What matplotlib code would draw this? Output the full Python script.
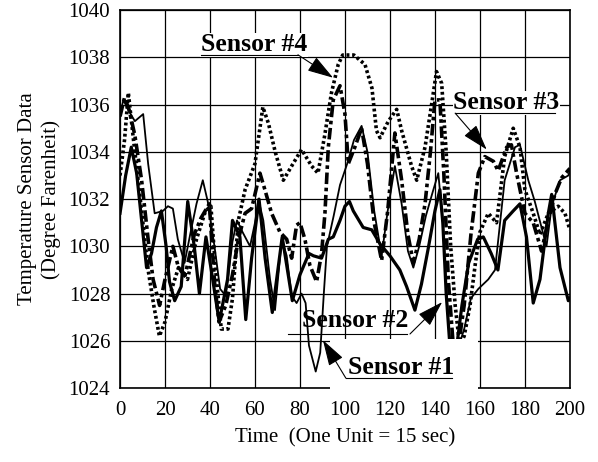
import numpy as np
import matplotlib
matplotlib.use("Agg")
import matplotlib.pyplot as plt
from matplotlib.patches import Rectangle

# ---- data ----
s1_t = [0, 1.5, 3.5, 6.6, 10.3, 12.5, 15.4, 19.1, 21.3, 23.5, 25.7, 28.7, 31.6, 34, 36.8,
        39, 42, 44.5, 47, 50, 52, 54.5, 57.8, 60, 61.5, 63.7, 66.7, 68.9, 71.9, 74.1, 76.3,
        78.5, 80.7, 82.5, 84, 87, 89, 90.6, 92, 95, 97.8, 101, 104, 107.4, 110, 113, 116.3,
        119, 122.2, 125.2, 128, 130.4, 133, 136, 139, 141.5, 143.5, 145.5, 147, 150, 153,
        156, 159.3, 163.7, 166.7, 171, 175.6, 177.8, 181.5, 184.4, 187.4, 189.6, 191.9,
        195.6, 199.3, 200]
s1_v = [1035.6, 1036.2, 1035.8, 1035.3, 1035.6, 1033.5, 1031.4, 1031.5, 1031.7, 1031.6,
        1030.3, 1029.3, 1030.7, 1031.8, 1032.8, 1031.9, 1030.0, 1028.2, 1027.9, 1030.2,
        1031.1, 1030.6, 1030.0, 1031.0, 1032.0, 1031.1, 1028.6, 1027.3, 1030.3, 1029.6,
        1027.9, 1027.6, 1028.0, 1027.6, 1025.8, 1024.7, 1025.5, 1028.0, 1030.0, 1031.3,
        1032.6, 1033.5, 1034.5, 1035.1, 1034.0, 1031.5, 1029.6, 1031.5, 1033.4, 1031.8,
        1029.8, 1029.1, 1030.0, 1031.3, 1032.3, 1033.1, 1031.0, 1027.5, 1025.5, 1025.6,
        1026.5, 1027.8, 1028.2, 1028.6, 1029.0, 1032.8, 1034.2, 1034.3, 1032.8, 1031.9,
        1030.8, 1030.0, 1031.7, 1032.8, 1033.0, 1033.2]

s2_t = [0, 2.5, 5, 7.4, 9.6, 11.8, 14, 16.2, 18.4, 20.5, 22, 24.3, 27.2, 30.1, 33, 35.3,
        38.2, 40.4, 44.1, 47.8, 50, 53.3, 55.9, 58.5, 61.8, 64.5, 67.7, 72.1, 76.6, 80, 84,
        86, 89.6, 92.6, 94.8, 97.8, 100, 102, 103.7, 108.1, 111.9, 115.6, 120, 124.4, 127.4,
        131.1, 134, 137, 140, 142.2, 143.5, 145, 146.5, 148, 150, 152, 155, 159, 161.5, 165,
        168, 171, 174.8, 177.8, 180.7, 183.7, 186.7, 190.4, 191.9, 195.6, 199.3, 200]
s2_v = [1031.4, 1033.0, 1034.2, 1033.1, 1031.1, 1029.1, 1029.7, 1030.8, 1031.5, 1030.0,
        1028.5, 1027.7, 1028.3, 1031.9, 1030.0, 1028.0, 1030.4, 1029.1, 1026.8, 1028.6,
        1031.1, 1030.4, 1026.9, 1029.5, 1032.0, 1029.5, 1027.2, 1030.4, 1027.7, 1028.8,
        1029.7, 1029.6, 1029.5, 1030.3, 1030.4, 1031.1, 1031.7, 1031.9, 1031.5, 1030.8,
        1030.7, 1030.1, 1029.6, 1029.0, 1028.3, 1027.3, 1028.4, 1029.9, 1031.5, 1032.4,
        1031.0, 1028.0, 1026.0, 1025.5, 1026.0, 1027.5, 1029.3, 1030.3, 1030.4, 1029.7,
        1029.0, 1031.1, 1031.5, 1031.8, 1030.4, 1027.6, 1028.6, 1031.4, 1032.2, 1029.1,
        1027.7, 1027.8]

s3_t = [0, 2, 4, 6.6, 9.6, 12.5, 14.7, 17.6, 20, 23.5, 26, 29, 33, 36, 39.7, 42, 44, 47,
        50, 52.6, 55.6, 58.5, 62.2, 64.4, 67.4, 71.1, 74.1, 76.3, 78.5, 80, 82.2, 84.4,
        87.4, 89.6, 91.1, 92.6, 94.8, 97.8, 100, 101.5, 104.4, 107.4, 110, 113, 116.3, 119,
        122.2, 125.2, 128, 130.4, 133, 135.6, 138, 140, 142.2, 144, 146, 148, 150, 153, 156,
        159.3, 162.2, 166, 168.1, 171.9, 174, 176.3, 180, 183.7, 187.4, 190.4, 193.3, 196.3,
        200]
s3_v = [1035.5, 1036.3, 1035.8, 1034.7, 1032.8, 1030.3, 1028.6, 1027.5, 1028.6, 1030.0,
        1029.1, 1028.8, 1030.5, 1031.2, 1031.8, 1028.5, 1026.8, 1027.5, 1028.8, 1030.3,
        1031.4, 1031.6, 1033.1, 1032.4, 1031.4, 1030.6, 1030.3, 1029.5, 1030.9, 1031.0,
        1030.3, 1029.2, 1028.5, 1029.7, 1031.4, 1034.2, 1036.2, 1036.8, 1035.6, 1033.5,
        1034.2, 1035.0, 1033.5, 1031.0, 1029.4, 1031.5, 1034.8, 1032.8, 1030.5, 1029.3,
        1030.3, 1031.8, 1034.0, 1036.2, 1036.2, 1033.0, 1028.5, 1026.0, 1025.5, 1027.5,
        1030.5, 1033.1, 1033.8, 1033.6, 1033.2, 1034.2, 1034.3, 1033.1, 1031.4, 1031.0,
        1029.8, 1031.1, 1032.2, 1032.9, 1033.3]

s4_t = [0, 2, 3.7, 6, 9, 12.5, 15, 17.5, 20, 23, 26, 30, 34, 38, 40.4, 42.5, 45, 48, 50,
        52.6, 55.6, 60, 63.5, 66, 69, 72.6, 76.3, 80.7, 85.2, 88, 91, 94, 97, 99, 104,
        108.9, 112, 114, 115.6, 119.3, 123, 125.2, 129.6, 131.9, 135.6, 138.5, 140.7, 143,
        145, 147, 149, 151, 153, 155.6, 158, 160, 163.7, 167.4, 171, 174.8, 177.8, 180,
        183.7, 186.7, 190.4, 194.8, 197.8, 200]
s4_v = [1033.0, 1034.5, 1036.5, 1034.5, 1032.0, 1029.0, 1027.5, 1026.2, 1026.8, 1028.2,
        1029.1, 1028.6, 1030.3, 1031.5, 1031.7, 1029.0, 1026.5, 1026.5, 1027.8, 1031.1,
        1032.4, 1033.5, 1035.9, 1035.2, 1034.0, 1032.8, 1033.4, 1034.1, 1033.4, 1033.1,
        1034.7, 1036.5, 1037.7, 1038.1, 1038.1, 1037.7, 1036.7, 1034.9, 1034.6, 1035.3,
        1035.8, 1034.9, 1033.4, 1032.8, 1034.2, 1036.0, 1037.4, 1036.9, 1034.0, 1030.0,
        1027.5, 1025.8, 1026.2, 1027.5, 1029.3, 1030.6, 1031.4, 1031.0, 1033.8, 1035.0,
        1034.2, 1032.4, 1031.4, 1030.5, 1031.4, 1031.7, 1031.4, 1030.7]

x_ticks = list(range(0, 201, 20))
y_ticks = list(range(1024, 1041, 2))

serif = ["Liberation Serif", "DejaVu Serif"]
plt.rcParams["font.family"] = serif

fig = plt.figure(figsize=(5.98, 4.62), dpi=100)
ax = fig.add_axes([0.2007, 0.160, 0.7523, 0.818])

ax.plot(s4_t, s4_v, color="black", lw=2.6, linestyle=(0, (0.8, 0.75)),
        dash_capstyle="butt", zorder=3)
ax.plot(s3_t, s3_v, color="black", lw=2.6, linestyle=(0, (3.2, 1.0, 1.0, 1.0)),
        dash_capstyle="butt", zorder=3)
ax.plot(s2_t, s2_v, color="black", lw=2.3, zorder=3)
ax.plot(s1_t, s1_v, color="black", lw=1.3, zorder=3)

ax.set_xlim(0, 200)
ax.set_ylim(1024, 1040)
ax.set_xticks(x_ticks)
ax.set_yticks(y_ticks)
ax.tick_params(length=0, labelsize=15, pad=9)
ax.tick_params(axis="y", pad=7)
ax.grid(True, color="black", lw=0.9)
ax.set_axisbelow(True)
for sp in ax.spines.values():
    sp.set_linewidth(1.2)

# white area behind the lower labels
ax.add_patch(Rectangle((93.3, 1023.6), 65.9, 2.48, facecolor="white",
                       edgecolor="none", zorder=5, clip_on=False))

lab = dict(fontsize=18.5, fontweight="bold", family=serif, zorder=7)
arr = dict(arrowstyle="-|>,head_length=0.9,head_width=0.28", color="black",
           lw=0.8, shrinkA=0, shrinkB=0, mutation_scale=18)


def callout(text, tx, ty, u0, u1, uy, start, tip, box=False):
    kw = dict(lab)
    if box:
        kw["bbox"] = dict(facecolor="white", edgecolor="none", pad=0.5)
    ax.text(tx, ty, text, ha="left", va="baseline", **kw)
    ax.plot([u0, u1], [uy, uy], color="black", lw=0.8, clip_on=False, zorder=7)
    ax.annotate("", xy=tip, xytext=start, arrowprops=arr, zorder=7,
                annotation_clip=False)


callout("Sensor #4", 35.9, 1038.25, 35.9, 79.1, 1038.11, (79.1, 1038.11),
        (94.7, 1037.14), box=True)
callout("Sensor #3", 148.2, 1035.8, 149.0, 193.5, 1035.64, (149.0, 1035.64),
        (163.0, 1034.1), box=True)
callout("Sensor #2", 80.8, 1026.58, 74.6, 127.6, 1026.29, (128.9, 1026.29),
        (143.2, 1027.64))
callout("Sensor #1", 101.3, 1024.59, 100.4, 147.7, 1024.42, (100.4, 1024.42),
        (90.2, 1026.03))

fig.text(0.577, 0.052, "Time  (One Unit = 15 sec)", ha="center", va="center",
         fontsize=15)
fig.text(0.066, 0.569, "Temperature Sensor Data\n(Degree Farenheit)", ha="center",
         va="center", rotation=90, fontsize=15, linespacing=1.25)

fig.savefig("out.png", dpi=100)
